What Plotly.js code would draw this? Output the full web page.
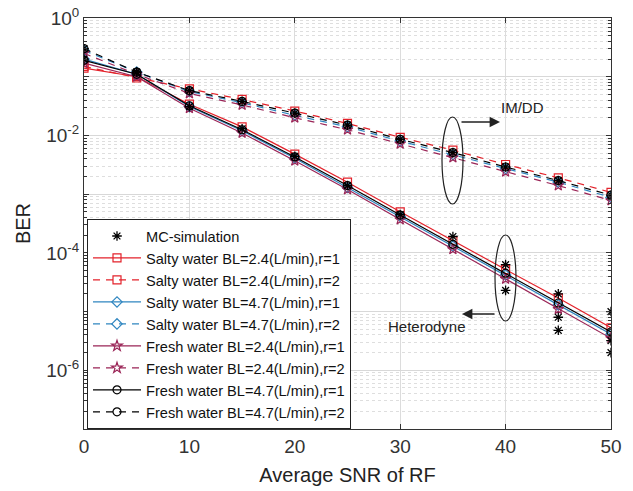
<!DOCTYPE html>
<html>
<head>
<meta charset="utf-8">
<script src="https://cdn.plot.ly/plotly-3.0.1.min.js"></script>
<style>html,body{margin:0;padding:0;background:#fff;}#chart{width:633px;height:491px;}</style>
</head>
<body>
<div id="chart"></div>
<script>
// ---- data ----
const snr = [0, 5, 10, 15, 20, 25, 30, 35, 40, 45, 50];

// Heterodyne (r=1, solid)
const salty24_r1 = [0.14, 0.10, 0.034, 0.014, 0.0048, 0.0016, 5.0e-4, 1.6e-4, 5.2e-5, 1.7e-5, 5.3e-6];
const salty47_r1 = [0.20, 0.11, 0.031, 0.012, 0.0041, 0.0013, 4.2e-4, 1.3e-4, 4.2e-5, 1.3e-5, 4.1e-6];
const fresh24_r1 = [0.17, 0.10, 0.029, 0.011, 0.0037, 0.0012, 3.7e-4, 1.15e-4, 3.6e-5, 1.1e-5, 3.5e-6];
const fresh47_r1 = [0.19, 0.11, 0.032, 0.0125, 0.0043, 0.0014, 4.4e-4, 1.4e-4, 4.5e-5, 1.4e-5, 4.5e-6];

// IM/DD (r=2, dashed)
const salty24_r2 = [0.15, 0.095, 0.062, 0.041, 0.026, 0.016, 0.0093, 0.0056, 0.0032, 0.0019, 0.00107];
const salty47_r2 = [0.28, 0.12, 0.056, 0.036, 0.022, 0.014, 0.0080, 0.0047, 0.0027, 0.0016, 8.8e-4];
const fresh24_r2 = [0.25, 0.11, 0.052, 0.033, 0.020, 0.0125, 0.0072, 0.0042, 0.0024, 0.0014, 7.8e-4];
const fresh47_r2 = [0.30, 0.12, 0.058, 0.038, 0.024, 0.015, 0.0086, 0.0051, 0.0029, 0.0017, 9.6e-4];

// Monte-Carlo simulation points
const mcX = [0, 5, 10, 15, 20, 25, 30, 35, 40, 40, 45, 45, 45, 50, 50, 50,
             0, 5, 10, 15, 20, 25, 30, 35, 40, 45, 50];
const mcY = [0.20, 0.12, 0.031, 0.013, 0.0044, 0.0014, 4.5e-4, 1.9e-4, 6.3e-5, 2.3e-5, 2.0e-5, 8.0e-6, 4.8e-6, 1.0e-5, 3.2e-6, 2.0e-6,
             0.30, 0.12, 0.058, 0.038, 0.024, 0.015, 0.0086, 0.0051, 0.0029, 0.0017, 9.6e-4];

const names = [
  "Salty water BL=2.4(L/min),r=1",
  "Salty water BL=2.4(L/min),r=2",
  "Salty water BL=4.7(L/min),r=1",
  "Salty water BL=4.7(L/min),r=2",
  "Fresh water BL=2.4(L/min),r=1",
  "Fresh water BL=2.4(L/min),r=2",
  "Fresh water BL=4.7(L/min),r=1",
  "Fresh water BL=4.7(L/min),r=2"
];
const series = [salty24_r1, salty24_r2, salty47_r1, salty47_r2, fresh24_r1, fresh24_r2, fresh47_r1, fresh47_r2];

// ---- styles ----
const colors = ["#e3222b", "#e3222b", "#2f86c0", "#2f86c0", "#9a2456", "#9a2456", "#000000", "#000000"];
const symbols = ["square-open", "square-open", "diamond-open", "diamond-open", "star-open", "star-open", "circle-open", "circle-open"];
const dashes = ["solid", "7px,6px", "solid", "7px,6px", "solid", "7px,6px", "solid", "7px,6px"];

const traces = series.map((y, i) => ({
  x: snr, y: y, type: "scatter", mode: "lines+markers", name: names[i],
  line: {color: colors[i], width: 1.2, dash: dashes[i]},
  marker: {symbol: symbols[i], size: 8, color: colors[i], line: {color: colors[i], width: 1.2}},
  legendrank: 10 + i
}));
traces.push({
  x: mcX, y: mcY, type: "scatter", mode: "markers", name: "MC-simulation",
  marker: {symbol: "asterisk-open", size: 8, color: "#000", line: {color: "#000", width: 1.3}},
  legendrank: 1
});

// minor y ticks (2..9 in each decade)
const minorVals = [];
for (let e = -7; e < 0; e++) for (let d = 2; d <= 9; d++) minorVals.push(d * Math.pow(10, e));
const majorVals = [1e-7, 1e-6, 1e-5, 1e-4, 1e-3, 1e-2, 1e-1, 1];
const majorText = ["", "10<sup>-6</sup>", "", "10<sup>-4</sup>", "", "10<sup>-2</sup>", "", "10<sup>0</sup>"];

const L = 84, R = 611, T = 18, B = 429;
const W = R - L, H = B - T;
const px = v => (v - L) / W;
const py = v => (B - v) / H;

const layout = {
  width: 633, height: 491,
  margin: {l: L, r: 633 - R, t: T, b: 491 - B},
  paper_bgcolor: "#fff", plot_bgcolor: "#fff",
  font: {family: "Liberation Sans, Arial, sans-serif", color: "#222"},
  showlegend: true,
  legend: {
    x: px(87), y: 0, xanchor: "left", yanchor: "bottom",
    bgcolor: "#fff", bordercolor: "#222", borderwidth: 1,
    font: {size: 14.6, color: "#111"}, itemwidth: 48, tracegroupgap: 0
  },
  xaxis: {
    range: [0, 50], dtick: 10, tick0: 0,
    ticks: "inside", ticklen: 5, tickcolor: "#333",
    showline: true, linecolor: "#333", linewidth: 1, mirror: "ticks",
    showgrid: true, gridcolor: "#dcdcdc", gridwidth: 1, zeroline: false,
    tickfont: {size: 19, color: "#333"},
    title: {text: "Average SNR of RF", font: {size: 20, color: "#222"}, standoff: 12}
  },
  yaxis: {
    type: "log", range: [-7, 0],
    tickmode: "array", tickvals: majorVals, ticktext: majorText,
    ticks: "inside", ticklen: 5, tickcolor: "#333",
    showline: true, linecolor: "#333", linewidth: 1, mirror: "ticks",
    showgrid: true, gridcolor: "#d8d8d8", gridwidth: 1, zeroline: false,
    tickfont: {size: 19, color: "#333"},
    minor: {tickmode: "array", tickvals: minorVals, ticks: "inside", ticklen: 3, tickcolor: "#333",
            showgrid: true, gridcolor: "#dedede", griddash: "dot", gridwidth: 1},
    title: {text: "BER", font: {size: 20, color: "#222"}, standoff: 10}
  },
  shapes: [
    {type: "circle", xref: "paper", yref: "paper", x0: px(442), x1: px(463), y0: py(204), y1: py(117),
     line: {color: "#222", width: 1.2}},
    {type: "circle", xref: "paper", yref: "paper", x0: px(495), x1: px(516), y0: py(321), y1: py(235),
     line: {color: "#222", width: 1.2}}
  ],
  annotations: [
    {xref: "paper", yref: "paper", x: px(499), y: py(108), xanchor: "left", yanchor: "middle",
     text: "IM/DD", showarrow: false, font: {size: 15, color: "#222"}},
    {xref: "paper", yref: "paper", x: px(500), y: py(122), ax: -40, ay: 0, text: "",
     showarrow: true, arrowhead: 2, arrowsize: 1.6, arrowwidth: 1.3, arrowcolor: "#222"},
    {xref: "paper", yref: "paper", x: px(386), y: py(326), xanchor: "left", yanchor: "middle",
     text: "Heterodyne", showarrow: false, font: {size: 15, color: "#222"}},
    {xref: "paper", yref: "paper", x: px(462), y: py(314), ax: 34, ay: 0, text: "",
     showarrow: true, arrowhead: 2, arrowsize: 1.6, arrowwidth: 1.3, arrowcolor: "#222"}
  ]
};

Plotly.newPlot("chart", traces, layout, {displayModeBar: false, staticPlot: true});
</script>
</body>
</html>
